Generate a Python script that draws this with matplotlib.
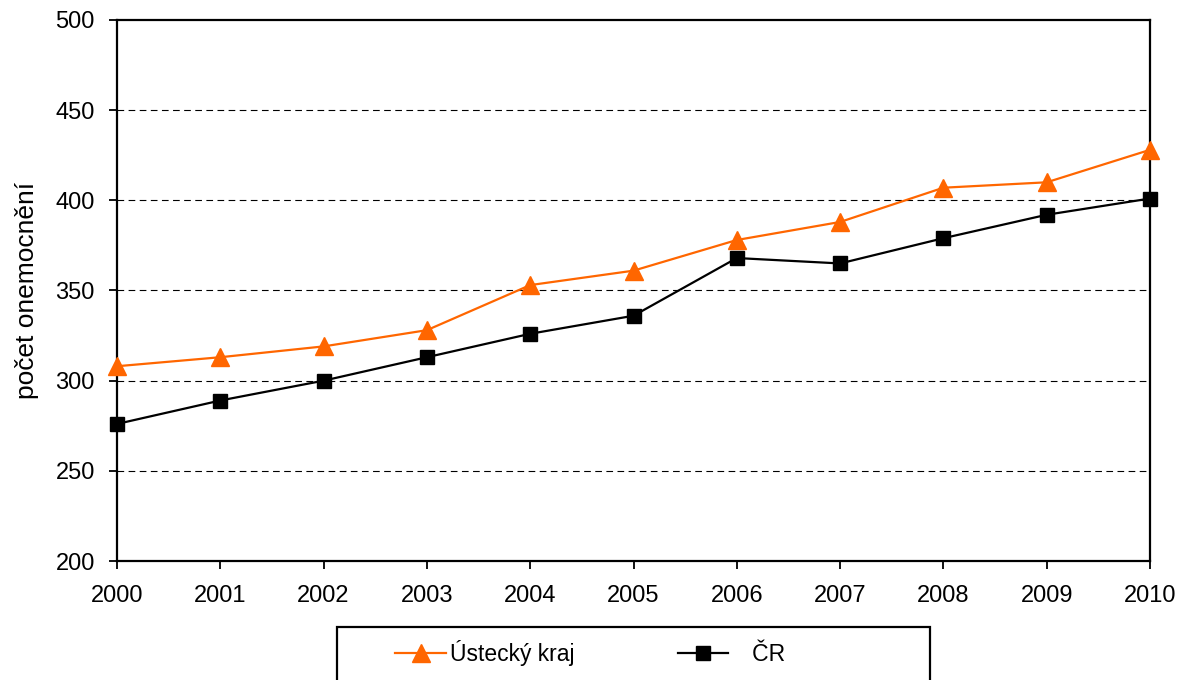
import matplotlib.pyplot as plt
from matplotlib.patches import Rectangle

plt.rcParams['font.family'] = ['Liberation Sans', 'DejaVu Sans']

roky = [2000, 2001, 2002, 2003, 2004, 2005, 2006, 2007, 2008, 2009, 2010]
ustecky = [308, 313, 319, 328, 353, 361, 378, 388, 407, 410, 428]
cr = [276, 289, 300, 313, 326, 336, 368, 365, 379, 392, 401]

fig = plt.figure(figsize=(11.81, 6.8), dpi=100)
ax = fig.add_axes([117/1181, 1 - 561/680, (1150 - 117)/1181, (561 - 20)/680])

ax.plot(roky, ustecky, color='#FF6600', linewidth=1.6, marker='^', markersize=13,
        label='Ústecký kraj', clip_on=False, zorder=3)
ax.plot(roky, cr, color='black', linewidth=1.6, marker='s', markersize=10.5,
        label='   ČR', clip_on=False, zorder=3)

ax.set_xlim(2000, 2010)
ax.set_ylim(200, 500)
ax.set_xticks(roky)
ax.set_yticks(range(200, 501, 50))
ax.tick_params(labelsize=17, width=1.3, length=6, direction='out')
ax.tick_params(axis='y', pad=10)
ax.tick_params(axis='x', pad=11)
for s in ax.spines.values():
    s.set_linewidth(1.6)

for y in range(250, 500, 50):
    ax.axhline(y, color='black', linewidth=0.8, linestyle=(0, (6, 4)), zorder=1)

ax.set_ylabel('počet onemocnění', fontsize=19, labelpad=12)

fig.legend(loc='center left', bbox_to_anchor=(384/1181, 1 - 653/680), frameon=False,
           ncol=2, fontsize=16.5, handlelength=2.2, handletextpad=0.2,
           columnspacing=4.5, borderpad=0)
fig.patches.append(Rectangle((337/1181, -0.05), (930 - 337)/1181, 0.05 + (680 - 627)/680,
                             transform=fig.transFigure, fill=False, edgecolor='black',
                             linewidth=1.6))

fig.savefig('out.png', dpi=100)
